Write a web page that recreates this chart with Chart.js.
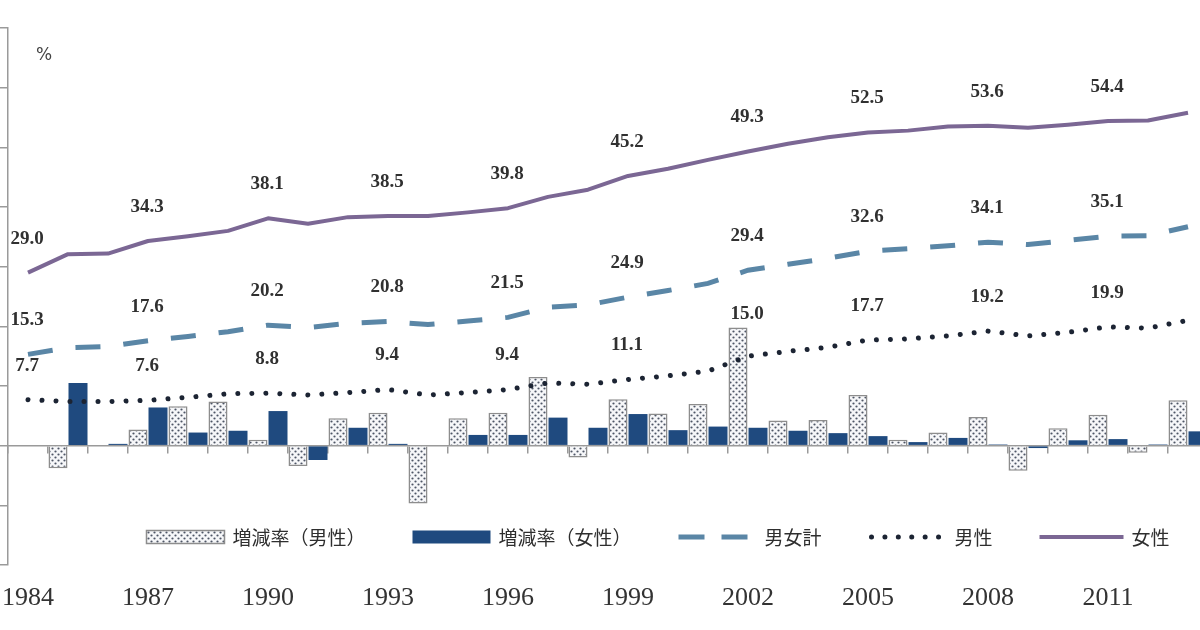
<!DOCTYPE html>
<html><head><meta charset="utf-8">
<script src="https://cdn.jsdelivr.net/npm/chart.js@4.4.1/dist/chart.umd.min.js"></script>
<style>
html,body{margin:0;padding:0;background:#fff;width:1200px;height:630px;overflow:hidden}
#wrap{position:relative;width:1200px;height:630px;overflow:hidden}
#wrap canvas{position:absolute;left:0;top:0}
</style>
</head><body>
<div id="wrap"><canvas id="c" width="1208" height="630"></canvas></div>
<script>
// ---- data ----
const years = ['1984','1985','1986','1987','1988','1989','1990','1991','1992','1993',
               '1994','1995','1996','1997','1998','1999','2000','2001','2002','2003',
               '2004','2005','2006','2007','2008','2009','2010','2011','2012','2013'];
const xTickLabels = ['1984','1987','1990','1993','1996','1999','2002','2005','2008','2011'];
const labeledYears = ['1984','1987','1990','1993','1996','1999','2002','2005','2008','2011'];
const seriesNames = ['増減率（男性）','増減率（女性）','男女計','男性','女性'];
const unitLabel = '%';

const rateMale   = [null,-3.8,0.0,2.7,6.6,7.4,1.0,-3.4,4.6,5.5,
                    -9.7,4.6,5.5,11.5,-2.0,7.8,5.4,7.0,19.8,4.2,
                    4.3,8.5,1.0,2.2,4.8,-4.2,2.9,5.2,-1.2,7.6];
const rateFemale = [null,10.5,0.3,6.4,2.2,2.5,5.8,-2.4,3.0,0.3,
                    0.0,1.8,1.8,4.7,3.0,5.3,2.6,3.2,3.0,2.5,
                    2.1,1.6,0.6,1.3,0.2,-0.4,0.9,1.1,0.2,2.4];
const ratioTotal = [15.3,16.4,16.6,17.6,18.3,19.1,20.2,19.8,20.5,20.8,
                    20.3,20.9,21.5,23.2,23.6,24.9,26.0,27.2,29.4,30.4,
                    31.4,32.6,33.0,33.5,34.1,33.7,34.4,35.1,35.2,36.7];
const ratioMale  = [7.7,7.4,7.4,7.6,8.1,8.7,8.8,8.5,8.9,9.4,
                    8.5,8.9,9.4,10.5,10.3,11.1,11.7,12.5,15.0,15.8,
                    16.5,17.7,17.9,18.4,19.2,18.4,19.0,19.9,19.7,21.0];
const ratioFemale= [29.0,32.1,32.2,34.3,35.1,36.0,38.1,37.2,38.3,38.5,
                    38.5,39.1,39.8,41.7,42.9,45.2,46.4,47.9,49.3,50.6,
                    51.7,52.5,52.8,53.5,53.6,53.3,53.8,54.4,54.5,55.8];
const yMin = -20, yMax = 70, yStep = 10;

// ---- styles ----
const C_BAR_F = '#1f4a7f';
const C_BAR_M_BORDER = '#8d8d8d';
const C_TOTAL = '#5a86a6';
const C_MALE = '#1c2433';
const C_FEMALE = '#7b6794';
const C_AXIS = '#9a9a9a';

function makePattern(ctx){
  const t = document.createElement('canvas');
  t.width = 6; t.height = 6;
  const g = t.getContext('2d');
  g.fillStyle = '#f6f7f9'; g.fillRect(0,0,6,6);
  g.fillStyle = '#4e5666';
  g.beginPath(); g.arc(1.5,1.5,1.1,0,Math.PI*2); g.fill();
  g.beginPath(); g.arc(4.5,4.5,1.1,0,Math.PI*2); g.fill();
  return ctx.createPattern(t,'repeat');
}

const canvas = document.getElementById('c');
const ctx = canvas.getContext('2d');
const pat = makePattern(ctx);

const valueLabels = {
  id:'valueLabels',
  afterDatasetsDraw(chart){
    const c = chart.ctx, xs = chart.scales.x, ys = chart.scales.y;
    c.save();
    c.font = 'bold 19px "Liberation Serif"';
    c.fillStyle = '#303030';
    c.textAlign = 'center';
    c.textBaseline = 'middle';
    [2,3,4].forEach(di => {
      const ds = chart.data.datasets[di];
      labeledYears.forEach(yr => {
        const i = years.indexOf(yr);
        const v = ds.data[i];
        let py = ys.getPixelForValue(v) - 34;
        const top = Math.max(rateMale[i] || 0, rateFemale[i] || 0);
        const barTop = ys.getPixelForValue(top);
        if (py > barTop - 13 && py < barTop + 40) py = barTop - 13;
        c.fillText(v.toFixed(1), xs.getPixelForValue(i) - 1, py);
      });
    });
    c.font = '17px "DejaVu Sans"';
    c.fillStyle = '#444';
    c.fillText(unitLabel, 44, 56);
    c.restore();
  }
};

const customLegend = {
  id:'customLegend',
  afterDraw(chart){
    const c = chart.ctx;
    c.save();
    c.font = '19px "Noto Sans CJK JP"';
    c.textBaseline = 'middle';
    c.textAlign = 'left';
    const yC = 537, symW = 78, gapT = 8, gapItem = 47;
    const widths = seriesNames.map(n => symW + gapT + c.measureText(n).width);
    const total = widths.reduce((a,b)=>a+b,0) + gapItem*(widths.length-1);
    let x = 655 - total/2;
    seriesNames.forEach((name, k) => {
      c.save();
      if (k === 0) {
        c.fillStyle = pat; c.fillRect(x, yC-6.5, symW, 13);
        c.strokeStyle = C_BAR_M_BORDER; c.lineWidth = 1.5; c.strokeRect(x, yC-6.5, symW, 13);
      } else if (k === 1) {
        c.fillStyle = C_BAR_F; c.fillRect(x, yC-6.5, symW, 13);
      } else if (k === 2) {
        c.strokeStyle = C_TOTAL; c.lineWidth = 5; c.setLineDash([26,17]);
        c.beginPath(); c.moveTo(x, yC); c.lineTo(x+70, yC); c.stroke();
      } else if (k === 3) {
        c.strokeStyle = C_MALE; c.lineWidth = 5; c.lineCap = 'round'; c.setLineDash([0.01,13.4]);
        c.beginPath(); c.moveTo(x+3, yC); c.lineTo(x+symW, yC); c.stroke();
      } else {
        c.strokeStyle = C_FEMALE; c.lineWidth = 4;
        c.beginPath(); c.moveTo(x, yC); c.lineTo(x+symW+6, yC); c.stroke();
      }
      c.restore();
      c.fillStyle = '#2e2e2e';
      c.fillText(name, x + symW + gapT + (k===4?6:0), yC + 1);
      x += widths[k] + gapItem;
    });
    c.restore();
  }
};

new Chart(ctx, {
  data: {
    labels: years,
    datasets: [
      {type:'bar', label:seriesNames[0], data:rateMale, backgroundColor:pat,
       borderColor:C_BAR_M_BORDER, borderWidth:1.5, categoryPercentage:1, barPercentage:0.95, order:1},
      {type:'bar', label:seriesNames[1], data:rateFemale, backgroundColor:C_BAR_F,
       borderWidth:0, categoryPercentage:1, barPercentage:0.95, order:1},
      {type:'line', label:seriesNames[2], data:ratioTotal, borderColor:C_TOTAL, borderWidth:5,
       borderDash:[25,23], pointRadius:0, tension:0, order:0},
      {type:'line', label:seriesNames[3], data:ratioMale, borderColor:C_MALE, borderWidth:5,
       borderDash:[0.01,14], borderCapStyle:'round', pointRadius:0, tension:0, order:0},
      {type:'line', label:seriesNames[4], data:ratioFemale, borderColor:C_FEMALE, borderWidth:4,
       borderJoinStyle:'round', pointRadius:0, tension:0, order:0}
    ]
  },
  options: {
    responsive:false,
    animation:false,
    devicePixelRatio:1,
    layout:{padding:{left:0,right:0,top:28,bottom:15}},
    plugins:{legend:{display:false}, tooltip:{enabled:false}},
    scales:{
      x:{type:'category', position:'bottom', offset:true,
         grid:{display:false, drawTicks:false}, border:{display:false},
         ticks:{autoSkip:false, maxRotation:0, minRotation:0, padding:18,
                font:{family:'Liberation Serif', size:26}, color:'#333',
                callback:(v,i)=> xTickLabels.includes(years[i]) ? years[i] : ''},
         afterFit:s=>{s.paddingLeft=0; s.paddingRight=0; s.height=50;}},
      x0:{type:'category', position:{y:0}, offset:true,
          grid:{display:true, offset:true, drawOnChartArea:false, drawTicks:true, tickLength:7, color:C_AXIS, lineWidth:1.5},
          border:{display:true, color:C_AXIS, width:1.5},
          ticks:{display:false},
          afterFit:s=>{s.paddingLeft=0; s.paddingRight=0;}},
      y:{type:'linear', min:yMin, max:yMax,
         ticks:{stepSize:yStep, display:false},
         grid:{drawOnChartArea:false, drawTicks:true, tickLength:8, color:C_AXIS, lineWidth:1.5},
         border:{display:true, color:C_AXIS, width:1.5},
         afterFit:s=>{s.width=8; s.paddingTop=0; s.paddingBottom=0;}}
    }
  },
  plugins:[valueLabels, customLegend]
});
</script>
</body></html>
